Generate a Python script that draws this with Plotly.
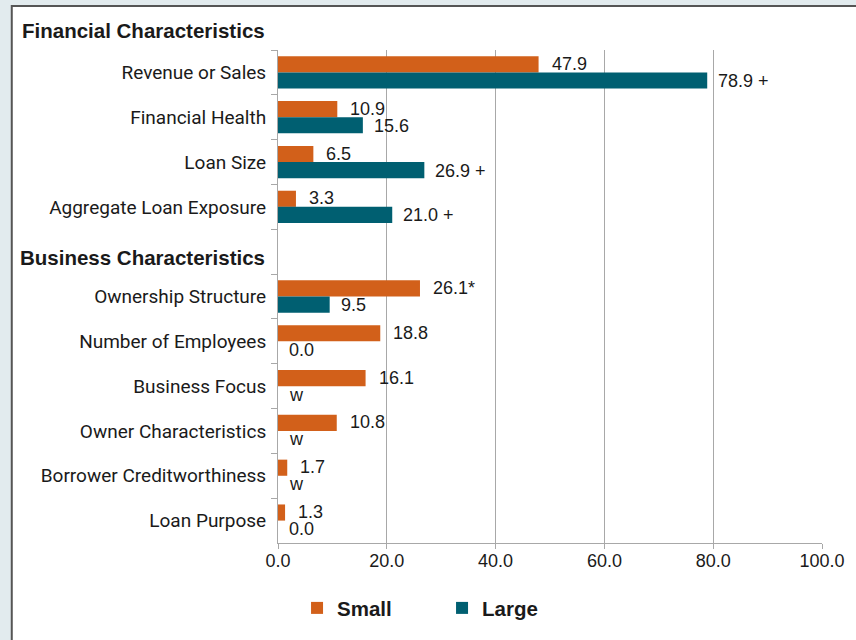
import plotly.graph_objects as go

HEADER = " "
categories = ["Revenue or Sales", "Financial Health", "Loan Size", "Aggregate Loan Exposure",
              HEADER,
              "Ownership Structure", "Number of Employees", "Business Focus",
              "Owner Characteristics", "Borrower Creditworthiness", "Loan Purpose"]
small_values = [47.9, 10.9, 6.5, 3.3, None, 26.1, 18.8, 16.1, 10.8, 1.7, 1.3]
large_values = [78.9, 15.6, 26.9, 21.0, None, 9.5, 0.0, None, None, None, 0.0]
small_labels = ["47.9", "10.9", "6.5", "3.3", "", "26.1*", "18.8", "16.1", "10.8", "1.7", "1.3"]
large_labels = ["78.9 +", "15.6", "26.9 +", "21.0 +", "", "9.5", "0.0", "w", "w", "w", "0.0"]
x_ticks = [0, 20, 40, 60, 80, 100]

ORANGE = "#D2601A"
TEAL = "#005F71"
GRID = "#a8a8a8"
TXT = "#1a1a1a"

fig = go.Figure()
fig.add_trace(go.Bar(name="Small", y=categories, x=small_values, orientation="h",
                     marker=dict(color=ORANGE, line=dict(width=0))))
fig.add_trace(go.Bar(name="Large", y=categories, x=large_values, orientation="h",
                     marker=dict(color=TEAL, line=dict(width=0))))

annotations = []
for cat, v, lab in zip(categories, small_values, small_labels):
    if lab:
        annotations.append(dict(x=v or 0, y=cat, xref="x", yref="y", text=lab, showarrow=False,
                                xanchor="left", yanchor="middle", xshift=11, yshift=8.5,
                                font=dict(family="Liberation Sans, Arial", size=18, color=TXT)))
for cat, v, lab in zip(categories, large_values, large_labels):
    if lab:
        annotations.append(dict(x=v or 0, y=cat, xref="x", yref="y", text=lab, showarrow=False,
                                xanchor="left", yanchor="middle", xshift=9, yshift=-8.5,
                                font=dict(family="Liberation Sans, Arial", size=18, color=TXT)))

header_font = dict(family="Liberation Sans, Arial", size=20.5, color=TXT)
annotations.append(dict(x=0, y=1, xref="paper", yref="paper", text="<b>Financial Characteristics</b>",
                        showarrow=False, xanchor="right", yanchor="middle", xshift=-11, yshift=20,
                        font=header_font))
annotations.append(dict(x=0, y=HEADER, xref="paper", yref="y", text="<b>Business Characteristics</b>",
                        showarrow=False, xanchor="right", yanchor="middle", xshift=-11, yshift=-6,
                        font=header_font))

fig.update_layout(
    width=856, height=640,
    margin=dict(l=278, r=34, t=50, b=97, autoexpand=False),
    paper_bgcolor="#e2ebee",
    plot_bgcolor="rgba(0,0,0,0)",
    barmode="group", bargap=0.28, bargroupgap=0,
    showlegend=True,
    legend=dict(orientation="h", x=0.035, xanchor="left", y=-0.132, yanchor="middle",
                font=dict(family="Liberation Sans, Arial", size=20.5, color=TXT, weight="bold"),
                bgcolor="rgba(0,0,0,0)", entrywidth=100, traceorder="normal"),
    annotations=annotations,
    shapes=[dict(type="rect", xref="paper", yref="paper", x0=-0.4894, x1=1.08, y0=-0.22, y1=1.0893,
                 fillcolor="white", line=dict(color="#555555", width=2), layer="below")],
)
fig.update_xaxes(range=[0, 100], tickvals=x_ticks, tickformat=".1f", showgrid=True, gridcolor=GRID,
                 gridwidth=1, showline=True, linecolor=GRID, linewidth=1, ticks="outside", ticklen=5,
                 tickcolor=GRID, zeroline=False, ticklabelstandoff=-4,
                 tickfont=dict(family="Liberation Sans, Arial", size=18, color=TXT))
fig.update_yaxes(autorange="reversed", categoryorder="array", categoryarray=categories,
                 showgrid=False, showline=True, linecolor=GRID, linewidth=1, ticks="outside",
                 ticklen=6, tickcolor=GRID, tickson="boundaries", zeroline=False, ticklabelstandoff=7,
                 tickfont=dict(family="Roboto", size=19, color=TXT))

fig.write_html("out.html", config={"displayModeBar": False},
               post_script="document.body.style.margin='0px';document.body.style.background='#e2ebee';")
